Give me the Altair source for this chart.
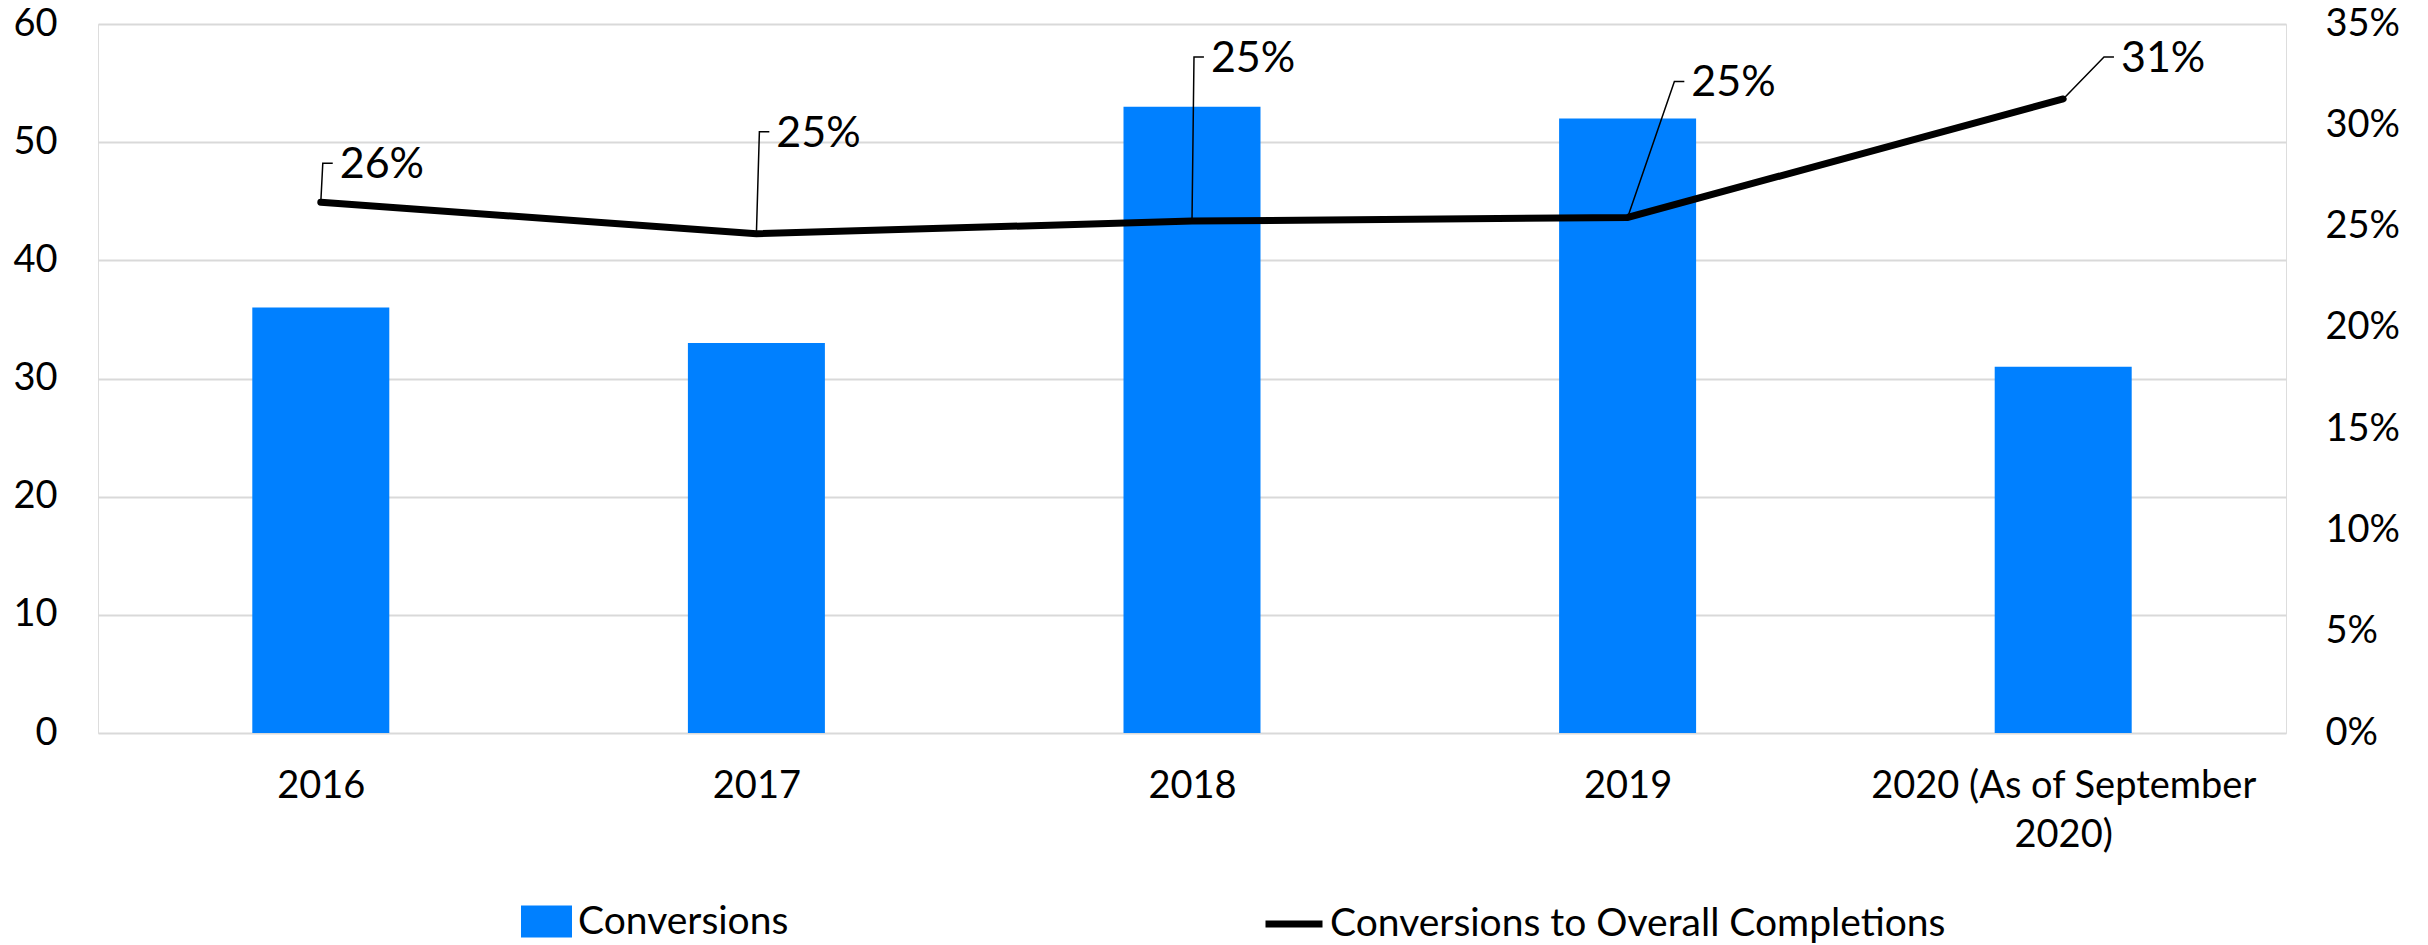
import json
import altair as alt
import pandas as pd

# ---------------- data ----------------
categories = ["2016", "2017", "2018", "2019", "2020 (As of September 2020)"]
tick_label_lines = [["2016"], ["2017"], ["2018"], ["2019"], ["2020 (As of September", "2020)"]]
conversions = [36, 33, 53, 52, 31]
conversion_rate = [0.262, 0.2465, 0.2527, 0.2545, 0.313]
bar_series = "Conversions"
line_series = "Conversions to Overall Completions"

# ---------------- styling ----------------
W, H = 2188, 709
FONT = "Lato"
FS_AXIS = 38
FS_LEGEND = 39
FS_LABEL = 43
BLUE = "#0080ff"
GRID = "#d9d9d9"
# data-label leader elbows, offset in pixels from each point
leader_dx = [2, 3, 2, 47, 41]
leader_dy = [-39, -102, -164, -136, -42]
TICK_LEN = 10
LABEL_GAP = 17
RECT_KEY = "M-1,-0.63L1,-0.63L1,0.63L-1,0.63Z"

X_DOMAIN = [-0.5, len(categories) - 0.5]
Y2_DOMAIN = [0, 0.35]
px_x = W / (X_DOMAIN[1] - X_DOMAIN[0])
pct_px = (Y2_DOMAIN[1] - Y2_DOMAIN[0]) / H

idx = list(range(len(categories)))
bars_df = pd.DataFrame({"idx": idx, "category": categories,
                        "conversions": conversions, "series": bar_series})
line_df = pd.DataFrame({"idx": idx, "category": categories,
                        "pct": conversion_rate, "series": line_series})

lead_rows, lab_rows = [], []
for i, p, dx, dy in zip(idx, conversion_rate, leader_dx, leader_dy):
    ex = i + dx / px_x
    ey = p - dy * pct_px
    lead_rows += [
        {"k": i, "o": 0, "idx": i, "pct": p},
        {"k": i, "o": 1, "idx": ex, "pct": ey},
        {"k": i, "o": 2, "idx": ex + TICK_LEN / px_x, "pct": ey},
    ]
    lab_rows.append({"idx": ex + LABEL_GAP / px_x, "pct": ey, "value": p})
lead_df = pd.DataFrame(lead_rows)
lab_df = pd.DataFrame(lab_rows)

label_expr = json.dumps(tick_label_lines).replace('"', "'") + "[datum.value]"

x_scale = alt.Scale(domain=X_DOMAIN, nice=False, zero=False)
x_axis = alt.Axis(values=idx, labelExpr=label_expr, grid=False, domain=False,
                  ticks=False, title=None, labelPadding=34, labelLineHeight=49,
                  labelFontSize=FS_AXIS, labelFont=FONT, labelColor="black",
                  labelAngle=0, labelBaseline="top", labelLimit=0)
y2_scale = alt.Scale(domain=Y2_DOMAIN, nice=False)
y2_axis = alt.Axis(orient="right", format=".0%",
                   values=[0, 0.05, 0.10, 0.15, 0.20, 0.25, 0.30, 0.35],
                   grid=False, domain=False, ticks=False, title=None,
                   labelPadding=39, labelFontSize=FS_AXIS, labelFont=FONT,
                   labelColor="black", labelLimit=0)

X = alt.X("idx:Q", scale=x_scale, axis=x_axis)
Y2 = alt.Y("pct:Q", scale=y2_scale, axis=y2_axis)

bars = alt.Chart(bars_df).mark_bar(size=137).encode(
    x=X,
    y=alt.Y("conversions:Q",
            scale=alt.Scale(domain=[0, 60], nice=False),
            axis=alt.Axis(values=list(range(0, 61, 10)), grid=True, gridColor=GRID,
                          gridWidth=2, domain=False, ticks=False, title=None,
                          labelPadding=41, labelFontSize=FS_AXIS, labelFont=FONT,
                          labelColor="black")),
    color=alt.Color("series:N", scale=alt.Scale(domain=[bar_series], range=[BLUE]),
                    legend=alt.Legend(orient="none", legendX=423, legendY=872,
                                      title=None, symbolType=RECT_KEY, symbolSize=2601,
                                      symbolStrokeWidth=0, labelFontSize=FS_LEGEND,
                                      labelFont=FONT, labelColor="black",
                                      labelOffset=6, labelLimit=0)),
)

line = alt.Chart(line_df).mark_line(strokeWidth=7, strokeCap="round").encode(
    x=X,
    y=Y2,
    stroke=alt.Stroke("series:N", scale=alt.Scale(domain=[line_series], range=["black"]),
                      legend=alt.Legend(orient="none", legendX=1164, legendY=868,
                                        title=None, symbolType="stroke", symbolSize=3249,
                                        symbolStrokeWidth=7, labelFontSize=FS_LEGEND,
                                        labelFont=FONT, labelColor="black",
                                        labelOffset=4, labelLimit=0)),
)

leaders = alt.Chart(lead_df).mark_line(color="black", strokeWidth=1.5).encode(
    x=X,
    y=Y2,
    detail="k:N",
    order="o:Q",
)

labels = alt.Chart(lab_df).mark_text(align="left", baseline="middle", fontSize=FS_LABEL,
                                     font=FONT, color="black", dy=2).encode(
    x=X,
    y=Y2,
    text=alt.Text("value:Q", format=".0%"),
)

right = alt.layer(line, leaders, labels)

chart = alt.layer(bars, right).resolve_scale(y="independent").properties(
    width=W, height=H,
    autosize=alt.AutoSizeParams(type="none"),
    padding={"left": 90, "top": 16, "right": 134, "bottom": 210},
).configure_view(stroke=None).configure(background="white")

chart.save("out.html", embed_options={"renderer": "svg", "actions": False})
